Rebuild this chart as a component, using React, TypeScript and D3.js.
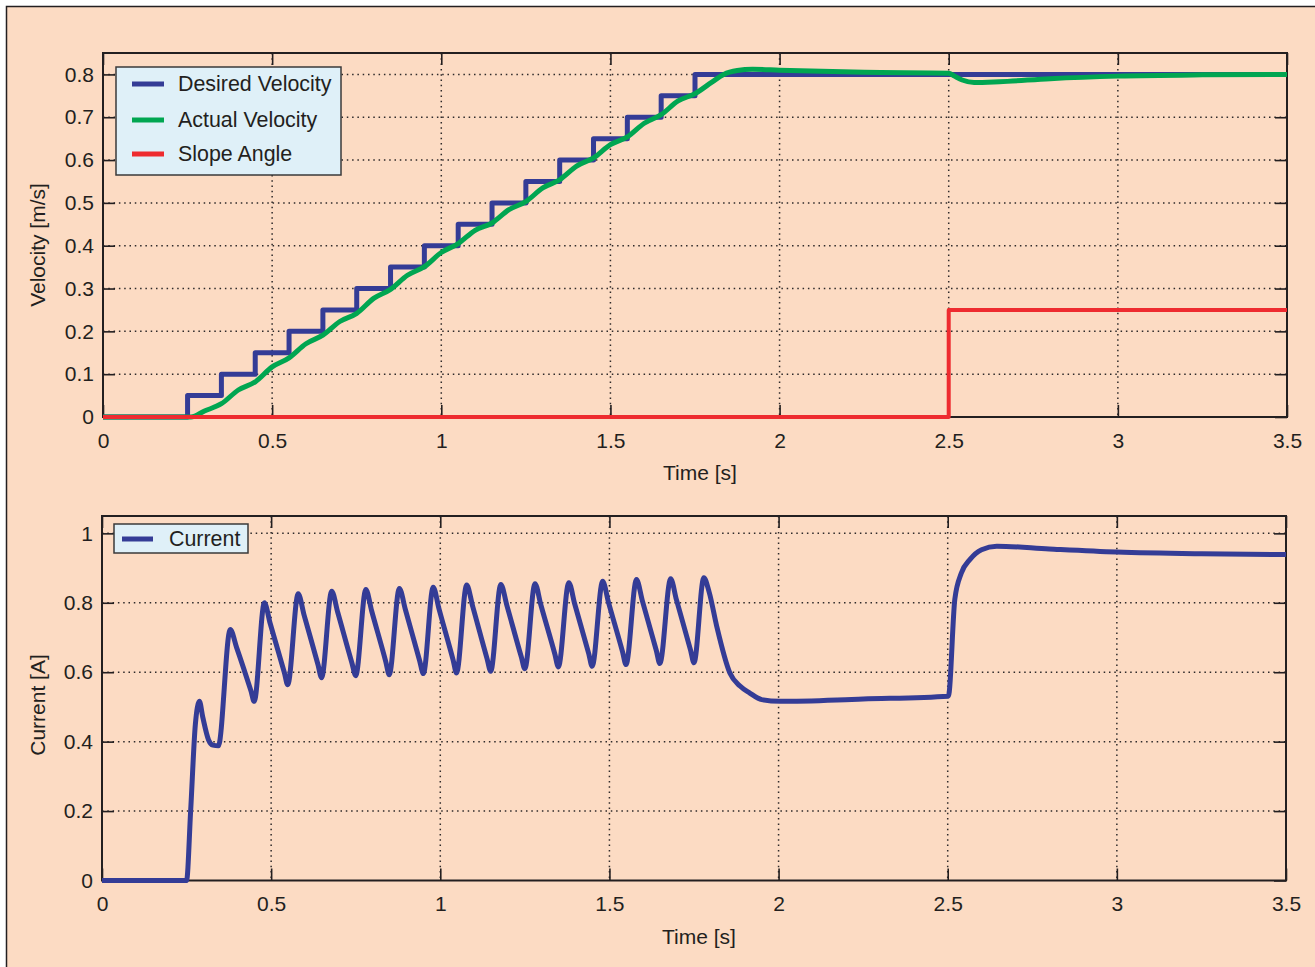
import React, { useEffect, useRef } from 'react';
import * as d3 from 'd3';

// time axis + ticks
const timeTicks = [0, 0.5, 1, 1.5, 2, 2.5, 3, 3.5];
const velocityTicks = [0, 0.1, 0.2, 0.3, 0.4, 0.5, 0.6, 0.7, 0.8];
const currentTicks = [0, 0.2, 0.4, 0.6, 0.8, 1];

// desired velocity (staircase)
const desiredT = [0, 0.25, 0.35, 0.45, 0.55, 0.65, 0.75, 0.85, 0.95, 1.05, 1.15, 1.25, 1.35, 1.45, 1.55, 1.65, 1.75, 3.5];
const desiredV = [0, 0.05, 0.1, 0.15, 0.2, 0.25, 0.3, 0.35, 0.4, 0.45, 0.5, 0.55, 0.6, 0.65, 0.7, 0.75, 0.8, 0.8];

// actual velocity
const actualT = [0, 0.26, 0.3, 0.35, 0.4, 0.45, 0.5, 0.55, 0.6, 0.65, 0.7, 0.75, 0.8, 0.85, 0.9, 0.95, 1.0, 1.05, 1.1, 1.15,
  1.2, 1.25, 1.3, 1.35, 1.4, 1.45, 1.5, 1.55, 1.6, 1.65, 1.7, 1.75, 1.8, 1.835, 1.875, 1.92, 2.0, 2.25, 2.5, 2.515,
  2.54, 2.575, 2.65, 2.8, 3.0, 3.25, 3.5];
const actualV = [0, 0, 0.014, 0.031, 0.063, 0.082, 0.117, 0.138, 0.171, 0.191, 0.223, 0.242, 0.277, 0.298, 0.331, 0.351, 0.384, 0.405, 0.436, 0.453,
  0.484, 0.503, 0.535, 0.554, 0.586, 0.605, 0.636, 0.654, 0.686, 0.706, 0.738, 0.755, 0.782, 0.8, 0.809, 0.812, 0.81, 0.805, 0.803, 0.797,
  0.787, 0.781, 0.783, 0.79, 0.796, 0.799, 0.8];

// slope angle
const slopeT = [0, 2.5, 3.5];
const slopeV = [0, 0.25, 0.25];

// motor current
const currentT = [0, 0.25, 0.262, 0.276, 0.288, 0.298, 0.315, 0.328, 0.344, 0.379,
  0.398, 0.44, 0.45, 0.48, 0.497, 0.539, 0.549, 0.58, 0.597, 0.639, 0.649, 0.679, 0.697, 0.739, 0.75,
  0.78, 0.797, 0.839, 0.849, 0.879, 0.897, 0.939, 0.95, 0.979, 0.996, 1.038, 1.048, 1.078, 1.096, 1.138, 1.149,
  1.179, 1.197, 1.239, 1.25, 1.28, 1.297, 1.339, 1.349, 1.38, 1.397, 1.439, 1.449, 1.48, 1.497, 1.539, 1.549,
  1.58, 1.597, 1.639, 1.649, 1.681, 1.698, 1.74, 1.75, 1.779, 1.795, 1.817, 1.856, 1.886, 1.915, 1.95, 2.004,
  2.25, 2.502, 2.521, 2.54, 2.566, 2.6, 2.645, 2.8, 3.0, 3.25, 3.5];
const currentV = [0, 0, 0.2, 0.45, 0.516, 0.47, 0.405, 0.39, 0.388, 0.723,
  0.671, 0.547, 0.516, 0.8, 0.741, 0.599, 0.564, 0.826, 0.766, 0.62, 0.584, 0.833, 0.772, 0.626, 0.59,
  0.838, 0.777, 0.63, 0.593, 0.841, 0.78, 0.633, 0.596, 0.845, 0.783, 0.635, 0.598, 0.851, 0.789, 0.64, 0.603,
  0.853, 0.792, 0.646, 0.61, 0.855, 0.795, 0.651, 0.615, 0.858, 0.798, 0.653, 0.617, 0.862, 0.802, 0.658, 0.622,
  0.867, 0.807, 0.661, 0.625, 0.869, 0.809, 0.663, 0.627, 0.872, 0.83, 0.733, 0.598, 0.56, 0.54, 0.521, 0.516,
  0.523, 0.531, 0.81, 0.885, 0.925, 0.953, 0.963, 0.955, 0.946, 0.941, 0.939];

const FONT = '"Liberation Sans", Arial, Helvetica, sans-serif';
const INK = '#231F20';
const PEACH = '#FCDBC3';
const LEGEND_BG = '#DFF0F8';
const BLUE = '#343C96';
const GREEN = '#00A651';
const RED = '#EE2B2F';

const fmt = (d) => String(d);

function drawPanel(svg, cfg) {
  const { left, right, top, bottom, yMax, yTicks, ylabel, ylabelY, xlabelX, xlabelY } = cfg;
  const x = d3.scaleLinear().domain([0, 3.5]).range([left, right]);
  const y = d3.scaleLinear().domain([0, yMax]).range([bottom, top]);

  // grid
  const grid = svg.append('g')
    .attr('stroke', '#2e2a2a')
    .attr('stroke-width', 1.5)
    .attr('stroke-dasharray', '1.5,3.8');
  grid.selectAll('line.gx')
    .data(timeTicks.filter(d => d > 0 && d < 3.5))
    .enter().append('line')
    .attr('x1', d => x(d)).attr('x2', d => x(d))
    .attr('y1', top).attr('y2', bottom);
  grid.selectAll('line.gy')
    .data(yTicks.filter(d => d > 0))
    .enter().append('line')
    .attr('x1', left).attr('x2', right)
    .attr('y1', d => y(d)).attr('y2', d => y(d));

  // axes, ticks inward on all four sides
  const styleAxis = (g) => {
    g.attr('font-family', FONT).attr('font-size', 21).attr('color', INK);
    g.select('.domain').remove();
    g.selectAll('.tick line').attr('stroke-width', 1.6);
    g.selectAll('.tick text').attr('fill', INK);
  };

  svg.append('g')
    .attr('transform', `translate(0,${bottom})`)
    .call(d3.axisBottom(x).tickValues(timeTicks).tickSize(-12).tickPadding(16).tickFormat(fmt))
    .call(styleAxis);
  svg.append('g')
    .attr('transform', `translate(0,${top})`)
    .call(d3.axisTop(x).tickValues(timeTicks).tickSize(-12).tickFormat(() => ''))
    .call(styleAxis);
  svg.append('g')
    .attr('transform', `translate(${left},0)`)
    .call(d3.axisLeft(y).tickValues(yTicks).tickSize(-12).tickPadding(9).tickFormat(fmt))
    .call(styleAxis);
  svg.append('g')
    .attr('transform', `translate(${right},0)`)
    .call(d3.axisRight(y).tickValues(yTicks).tickSize(-12).tickFormat(() => ''))
    .call(styleAxis);

  svg.append('rect')
    .attr('x', left).attr('y', top)
    .attr('width', right - left).attr('height', bottom - top)
    .attr('fill', 'none').attr('stroke', INK).attr('stroke-width', 2);

  svg.append('text')
    .attr('transform', `translate(37,${ylabelY}) rotate(-90)`)
    .attr('text-anchor', 'middle')
    .attr('dominant-baseline', 'central')
    .attr('font-family', FONT).attr('font-size', 21).attr('fill', INK)
    .text(ylabel);

  svg.append('text')
    .attr('x', xlabelX).attr('y', xlabelY)
    .attr('text-anchor', 'middle')
    .attr('dominant-baseline', 'central')
    .attr('font-family', FONT).attr('font-size', 21).attr('fill', INK)
    .text('Time [s]');

  return { x, y };
}

function drawSeries(svg, x, y, T, V, curve, color, width) {
  const line = d3.line()
    .x(d => x(d[0]))
    .y(d => y(d[1]))
    .curve(curve);
  svg.append('path')
    .datum(d3.zip(T, V))
    .attr('d', line)
    .attr('fill', 'none')
    .attr('stroke', color)
    .attr('stroke-width', width)
    .attr('stroke-linejoin', 'round');
}

function drawLegend(svg, box, items) {
  const g = svg.append('g');
  g.append('rect')
    .attr('x', box.x).attr('y', box.y)
    .attr('width', box.w).attr('height', box.h)
    .attr('fill', LEGEND_BG).attr('stroke', '#3a3a3a').attr('stroke-width', 1.5);
  items.forEach(it => {
    g.append('line')
      .attr('x1', box.lx1).attr('x2', box.lx2)
      .attr('y1', it.y).attr('y2', it.y)
      .attr('stroke', it.color).attr('stroke-width', 5);
    g.append('text')
      .attr('x', box.tx).attr('y', it.y)
      .attr('dominant-baseline', 'central')
      .attr('font-family', FONT).attr('font-size', 21.4).attr('fill', INK)
      .text(it.label);
  });
}

const App = () => {
  const ref = useRef(null);

  useEffect(() => {
    const svg = d3.select(ref.current);
    svg.selectAll('*').remove();

    svg.append('rect').attr('width', 1315).attr('height', 967).attr('fill', '#ffffff');
    svg.append('rect')
      .attr('x', 6.5).attr('y', 6.5).attr('width', 1400).attr('height', 1000)
      .attr('fill', PEACH).attr('stroke', INK).attr('stroke-width', 1.5);

    // top: velocity
    const top = drawPanel(svg, {
      left: 103, right: 1287, top: 53, bottom: 417,
      yMax: 0.85, yTicks: velocityTicks,
      ylabel: 'Velocity [m/s]', ylabelY: 245, xlabelX: 700, xlabelY: 472,
    });
    drawSeries(svg, top.x, top.y, desiredT, desiredV, d3.curveStepAfter, BLUE, 5);
    drawSeries(svg, top.x, top.y, actualT, actualV, d3.curveMonotoneX, GREEN, 5);
    drawSeries(svg, top.x, top.y, slopeT, slopeV, d3.curveStepAfter, RED, 4);
    drawLegend(svg, { x: 116, y: 67, w: 225, h: 108, lx1: 132, lx2: 164, tx: 178 }, [
      { label: 'Desired Velocity', color: BLUE, y: 84 },
      { label: 'Actual Velocity', color: GREEN, y: 120 },
      { label: 'Slope Angle', color: RED, y: 154 },
    ]);

    // bottom: current
    const bot = drawPanel(svg, {
      left: 102, right: 1286, top: 516, bottom: 880.5,
      yMax: 1.05, yTicks: currentTicks,
      ylabel: 'Current [A]', ylabelY: 705, xlabelX: 699, xlabelY: 936,
    });
    drawSeries(svg, bot.x, bot.y, currentT, currentV, d3.curveMonotoneX, BLUE, 5);
    drawLegend(svg, { x: 114, y: 524, w: 134, h: 29, lx1: 122, lx2: 153, tx: 169 }, [
      { label: 'Current', color: BLUE, y: 539 },
    ]);
  }, []);

  return (
    <svg ref={ref} width={1315} height={967}
      style={{ position: 'absolute', left: 0, top: 0, display: 'block' }} />
  );
};

export default App;
